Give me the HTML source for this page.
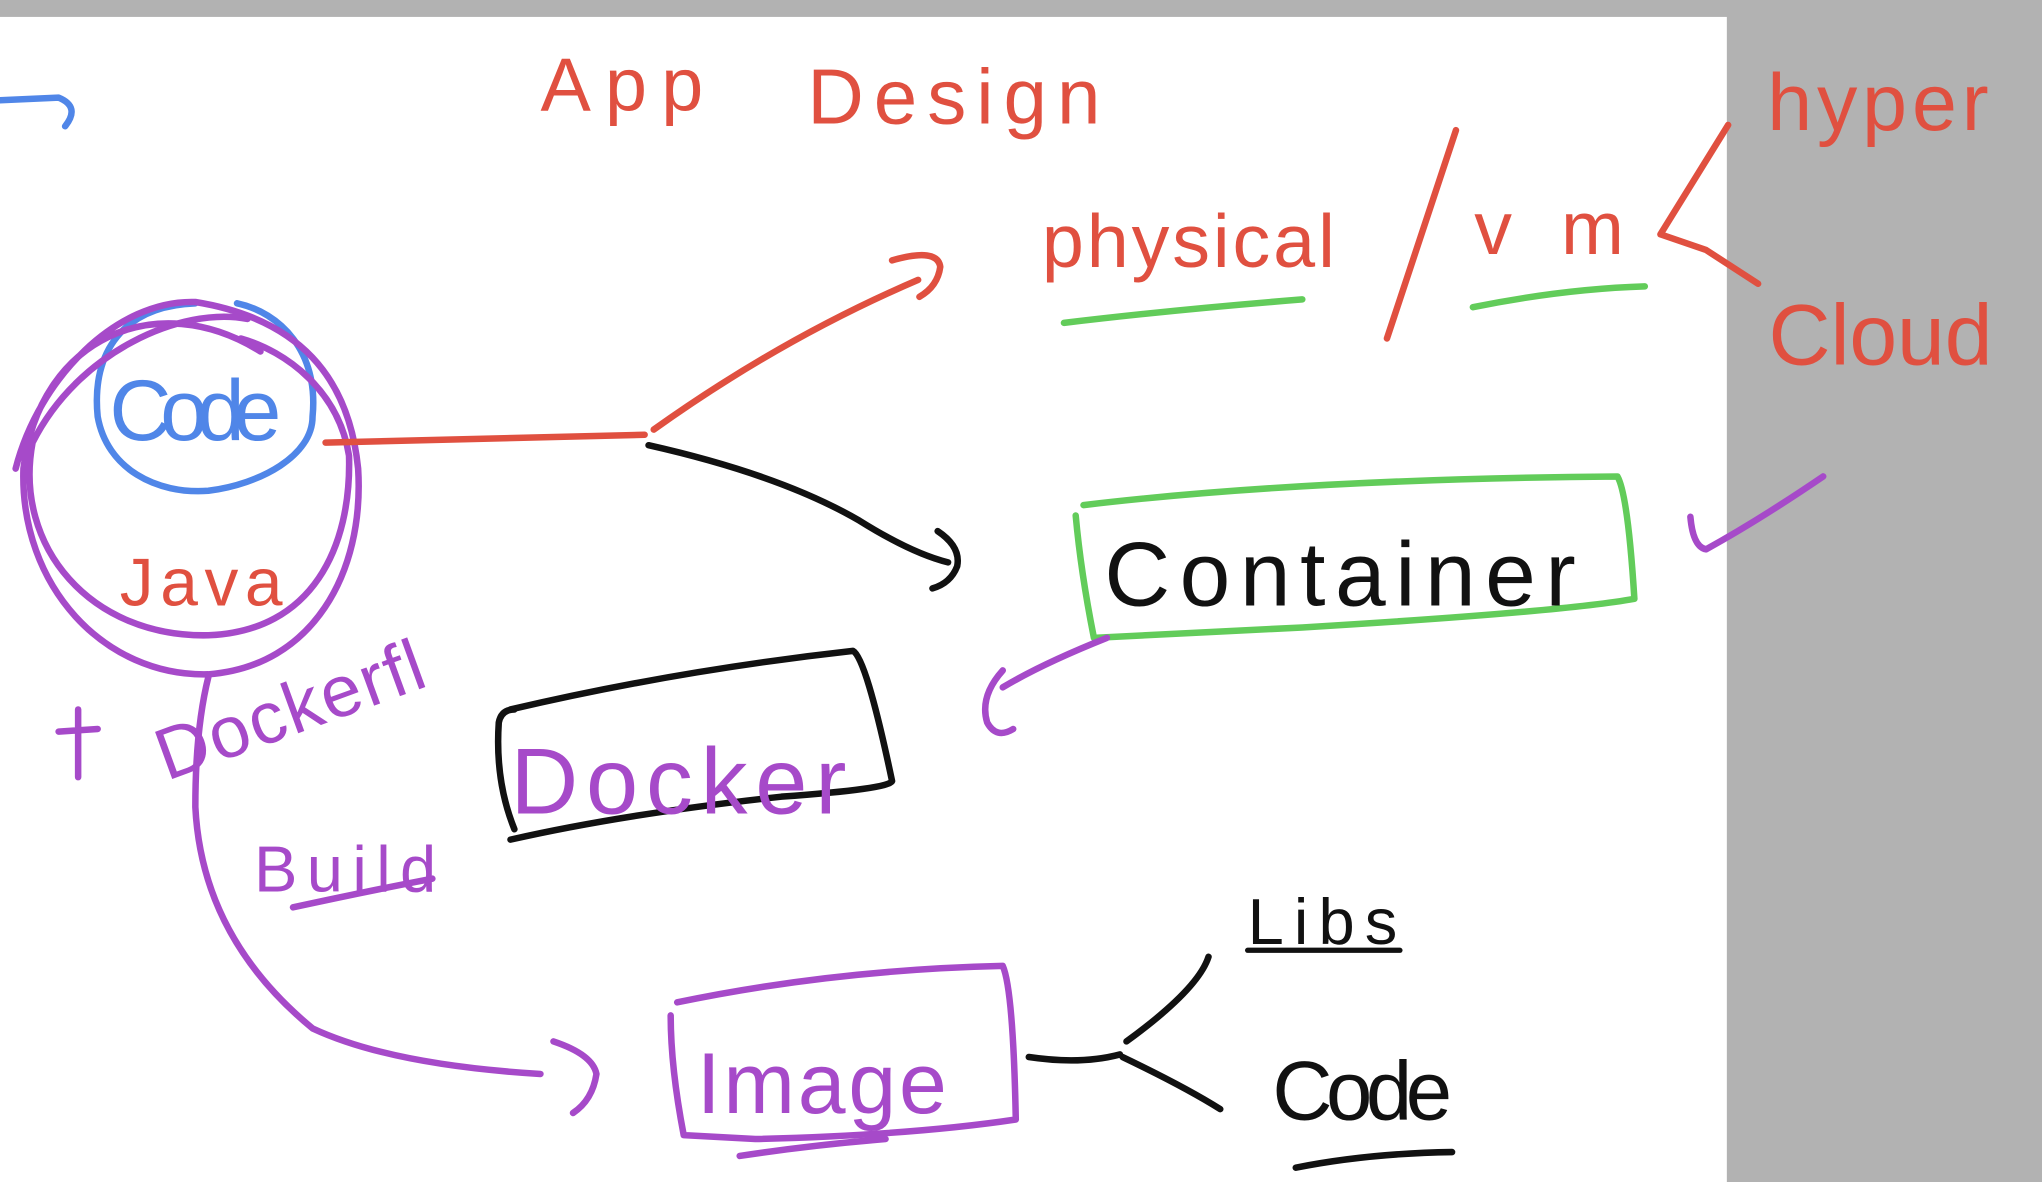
<!DOCTYPE html>
<html><head><meta charset="utf-8"><style>
html,body{margin:0;padding:0;background:#fff;}
svg{display:block;}
text{font-family:"Liberation Sans",sans-serif;}
</style></head><body>
<svg width="2042" height="1182" viewBox="0 0 1568 908" preserveAspectRatio="none" xmlns="http://www.w3.org/2000/svg">
<rect x="0" y="0" width="1568" height="908" fill="#fff"/>
<rect x="0" y="0" width="1568" height="13" fill="#b2b2b2"/>
<rect x="1326" y="0" width="242" height="908" fill="#b2b2b2"/>
<g fill="none" stroke-linecap="round" stroke-linejoin="round" stroke-width="5">
<path d="M0 77 L45 75 Q62 82 50 97" stroke="#5086e8"/>
<path d="M150 233 C95 235 70 270 75 320 C82 360 120 380 160 377 C200 372 240 350 240 320 C245 270 215 240 182 233" stroke="#5086e8"/>
<path d="M200 270 C120 220 30 260 18 360 C15 450 80 520 160 518 C240 512 280 440 275 360 C268 290 230 245 150 232 C90 230 30 290 12 360" stroke="#a64ac9"/>
<path d="M190 245 C140 235 60 270 25 340 C10 420 70 490 160 488 C240 485 270 420 268 350 C260 300 220 270 185 260" stroke="#a64ac9"/>
<path d="M250 340 L495 334" stroke="#e05040"/>
<path d="M502 330 Q600 260 705 215 M685 200 Q720 190 722 205 Q720 220 706 228" stroke="#e05040"/>
<path d="M498 342 Q600 365 660 400 Q700 425 728 432 M720 408 Q738 420 735 435 Q730 448 716 452" stroke="#111"/>
<path d="M1118 100 L1065 260" stroke="#e05040"/>
<path d="M817 248 Q900 238 1000 230" stroke="#62cc5a"/>
<path d="M1131 236 Q1200 222 1263 220" stroke="#62cc5a"/>
<path d="M1327 96 L1275 180 L1310 192 L1350 218" stroke="#e05040"/>
<path d="M832 388 Q1000 368 1242 366 Q1250 380 1255 460 Q1200 470 1000 482 L840 490 Q830 440 826 396" stroke="#62cc5a"/>
<path d="M1298 397 Q1300 420 1310 422 Q1350 400 1400 366" stroke="#a64ac9"/>
<path d="M850 490 Q800 510 770 528 M770 515 Q752 535 758 555 Q765 568 778 560" stroke="#a64ac9"/>
<path d="M392 545 Q520 515 655 500 Q665 505 685 600 Q683 606 600 612 Q480 625 392 645 M395 637 Q380 600 383 555 Q385 545 395 545" stroke="#111"/>
<path d="M160 520 Q150 560 150 620 Q155 720 240 790 Q300 818 415 825 M425 800 Q455 810 458 825 Q455 845 440 855" stroke="#a64ac9"/>
<path d="M520 770 Q640 745 770 742 Q778 760 780 860 Q700 872 580 875 L525 872 Q515 820 515 780" stroke="#a64ac9"/>
<path d="M568 888 Q620 880 680 875" stroke="#a64ac9"/>
<path d="M225 697 Q280 685 332 675" stroke="#a64ac9"/>
<path d="M790 812 Q830 818 860 810 M865 800 Q920 760 928 735 M862 812 Q910 835 937 852" stroke="#111"/>
<path d="M958 730 Q1010 730 1075 730" stroke="#111" stroke-width="4"/>
<path d="M995 897 Q1050 886 1115 885" stroke="#111"/>
<path d="M45 562 L75 560 M60 545 L60 597" stroke="#a64ac9"/>
</g>
<g>
<text x="415" y="85" font-size="58" fill="#e05040" textLength="125">App</text>
<text x="620" y="95" font-size="60" fill="#e05040" textLength="225">Design</text>
<text x="800" y="205" font-size="58" fill="#e05040" textLength="225">physical</text>
<text x="1132" y="195" font-size="58" fill="#e05040" textLength="115">vm</text>
<text x="1357" y="100" font-size="62" fill="#e05040" textLength="170">hyper</text>
<text x="1358" y="280" font-size="66" fill="#e05040" textLength="172">Cloud</text>
<text x="84" y="338" font-size="66" fill="#5086e8" textLength="132">Code</text>
<text x="92" y="465" font-size="52" fill="#e05040" textLength="125">Java</text>
<text x="848" y="465" font-size="70" fill="#111" textLength="362">Container</text>
<text x="392" y="625" font-size="72" fill="#a64ac9" textLength="258">Docker</text>
<text x="128" y="600" font-size="56" fill="#a64ac9" transform="rotate(-20 128 600)" textLength="215">Dockerfl</text>
<text x="195" y="685" font-size="50" fill="#a64ac9" textLength="140">Build</text>
<text x="535" y="855" font-size="66" fill="#a64ac9" textLength="192">Image</text>
<text x="958" y="725" font-size="50" fill="#111" textLength="115">Libs</text>
<text x="977" y="860" font-size="64" fill="#111" textLength="138">Code</text>
</g>
</svg>
</body></html>
